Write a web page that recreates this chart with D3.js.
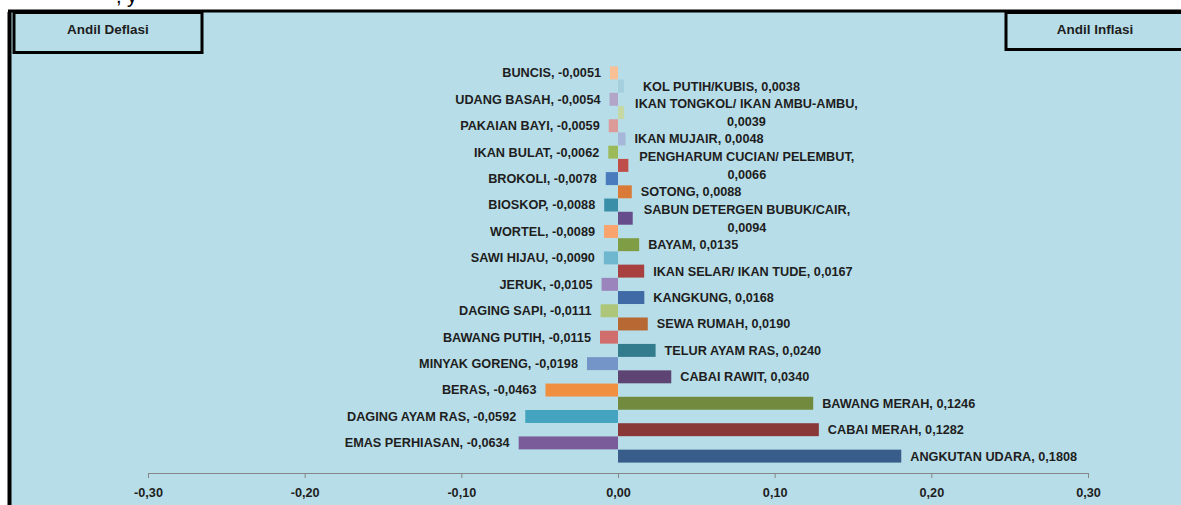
<!DOCTYPE html>
<html>
<head>
<meta charset="utf-8">
<script src="https://cdn.jsdelivr.net/npm/d3@7"></script>
<style>
  body { margin: 0; background: #fff; }
  svg text { font-family: "Liberation Sans", Arial, sans-serif; font-weight: bold; fill: #1e1e1e; }
</style>
</head>
<body>
<div id="plot"></div>
<script>
// deflation items (left side), top to bottom
const deflasiItems = ["BUNCIS", "UDANG BASAH", "PAKAIAN BAYI", "IKAN BULAT", "BROKOLI", "BIOSKOP", "WORTEL",
  "SAWI HIJAU", "JERUK", "DAGING SAPI", "BAWANG PUTIH", "MINYAK GORENG", "BERAS", "DAGING AYAM RAS", "EMAS PERHIASAN"];
const deflasiValues = [-0.0051, -0.0054, -0.0059, -0.0062, -0.0078, -0.0088, -0.0089,
  -0.0090, -0.0105, -0.0111, -0.0115, -0.0198, -0.0463, -0.0592, -0.0634];
const deflasiColors = ["#f9bf95", "#b3a5c8", "#dc9a98", "#9cba5a", "#4a7cbd", "#3a8fa8", "#f9a46c",
  "#6fb6cf", "#9a84bb", "#aec679", "#d06e6d", "#7395c8", "#ef8f3f", "#44a4c0", "#7b5c9b"];

// inflation items (right side), top to bottom
const inflasiItems = ["KOL PUTIH/KUBIS", "IKAN TONGKOL/ IKAN AMBU-AMBU", "IKAN MUJAIR", "PENGHARUM CUCIAN/ PELEMBUT",
  "SOTONG", "SABUN DETERGEN BUBUK/CAIR", "BAYAM", "IKAN SELAR/ IKAN TUDE", "KANGKUNG", "SEWA RUMAH",
  "TELUR AYAM RAS", "CABAI RAWIT", "BAWANG MERAH", "CABAI MERAH", "ANGKUTAN UDARA"];
const inflasiValues = [0.0038, 0.0039, 0.0048, 0.0066, 0.0088, 0.0094, 0.0135, 0.0167, 0.0168, 0.0190,
  0.0240, 0.0340, 0.1246, 0.1282, 0.1808];
const inflasiColors = ["#a5cfdd", "#c6d9a4", "#a6b7d9", "#bf4e4b", "#d97b37", "#674c8b", "#7f9d45",
  "#a7403e", "#3f6aa6", "#b86832", "#327c8e", "#5e4473", "#718a3d", "#8a3837", "#385d8a"];

const xTicks = [-0.3, -0.2, -0.1, 0, 0.1, 0.2, 0.3];

// interleave: deflasi row, then inflasi row
const rows = [];
deflasiItems.forEach((d, i) => {
  rows.push({ name: d, value: deflasiValues[i], color: deflasiColors[i] });
  rows.push({ name: inflasiItems[i], value: inflasiValues[i], color: inflasiColors[i] });
});

const W = 1181, H = 505;
const fmt = v => v.toFixed(4).replace(".", ",");
const fmtTick = v => (Math.abs(v) < 1e-9 ? 0 : v).toFixed(2).replace(".", ",");

const svg = d3.select("#plot").append("svg")
  .attr("width", W).attr("height", H);

// plot background + frame
svg.append("rect").attr("x", 10).attr("y", 11).attr("width", W - 10).attr("height", H - 11)
  .attr("fill", "#b7dde8");
svg.append("line").attr("x1", 8).attr("x2", W).attr("y1", 11).attr("y2", 11)
  .attr("stroke", "#000").attr("stroke-width", 3);
svg.append("line").attr("x1", 9.5).attr("x2", 9.5).attr("y1", 12).attr("y2", H)
  .attr("stroke", "#000").attr("stroke-width", 4);

// cut-off title remnant at the very top
svg.append("text").attr("x", 116).attr("y", 3).attr("font-size", 20)
  .style("font-weight", "normal").style("fill", "#000").text(", y");

const x = d3.scaleLinear().domain([-0.3, 0.3]).range([148, 1088]);
const y = d3.scaleBand().domain(d3.range(rows.length)).range([66.4, 462.6]).paddingInner(0.02);

svg.append("g").selectAll("rect")
  .data(rows)
  .join("rect")
  .attr("x", d => x(Math.min(0, d.value)))
  .attr("y", (d, i) => y(i))
  .attr("width", d => Math.abs(x(d.value) - x(0)))
  .attr("height", y.bandwidth())
  .attr("fill", d => d.color);

// labels
const labels = svg.append("g").attr("font-size", 12.7);
rows.forEach((d, i) => {
  const cy = y(i) + y.bandwidth() / 2;
  if (d.value < 0) {
    labels.append("text")
      .attr("x", x(d.value) - 9)
      .attr("y", cy).attr("dy", "0.35em")
      .attr("text-anchor", "end")
      .text(`${d.name}, ${fmt(d.value)}`);
  } else if (d.name.length >= 25) {
    const start = x(d.value) + 11;
    const t1 = labels.append("text")
      .attr("x", start).attr("y", cy - 8.5).attr("dy", "0.35em")
      .text(`${d.name},`);
    const w = t1.node().getComputedTextLength();
    labels.append("text")
      .attr("x", start + w / 2).attr("y", cy + 9.5).attr("dy", "0.35em")
      .attr("text-anchor", "middle")
      .text(fmt(d.value));
  } else {
    labels.append("text")
      .attr("x", x(d.value) + (i === 1 ? 19 : 9))
      .attr("y", cy).attr("dy", "0.35em")
      .text(`${d.name}, ${fmt(d.value)}`);
  }
});

// x axis
const axis = svg.append("g")
  .attr("transform", "translate(0,473)")
  .call(d3.axisBottom(x).tickValues(xTicks).tickFormat(fmtTick).tickSize(5).tickPadding(10));
axis.select(".domain").attr("stroke", "#868686");
axis.selectAll(".tick line").attr("stroke", "#868686");
axis.selectAll(".tick text").attr("font-size", 12.7).attr("font-family", null).attr("fill", null);

// header boxes
svg.append("rect").attr("x", 14).attr("y", 12.5).attr("width", 188).attr("height", 40)
  .attr("fill", "#b7dde8").attr("stroke", "#000").attr("stroke-width", 3);
svg.append("text").attr("x", 108).attr("y", 29).attr("dy", "0.35em")
  .attr("text-anchor", "middle").attr("font-size", 13.5).text("Andil Deflasi");

svg.append("rect").attr("x", 1006).attr("y", 12.5).attr("width", 190).attr("height", 37)
  .attr("fill", "#b7dde8").attr("stroke", "#000").attr("stroke-width", 3);
svg.append("text").attr("x", 1095).attr("y", 29).attr("dy", "0.35em")
  .attr("text-anchor", "middle").attr("font-size", 13.5).text("Andil Inflasi");
</script>
</body>
</html>
